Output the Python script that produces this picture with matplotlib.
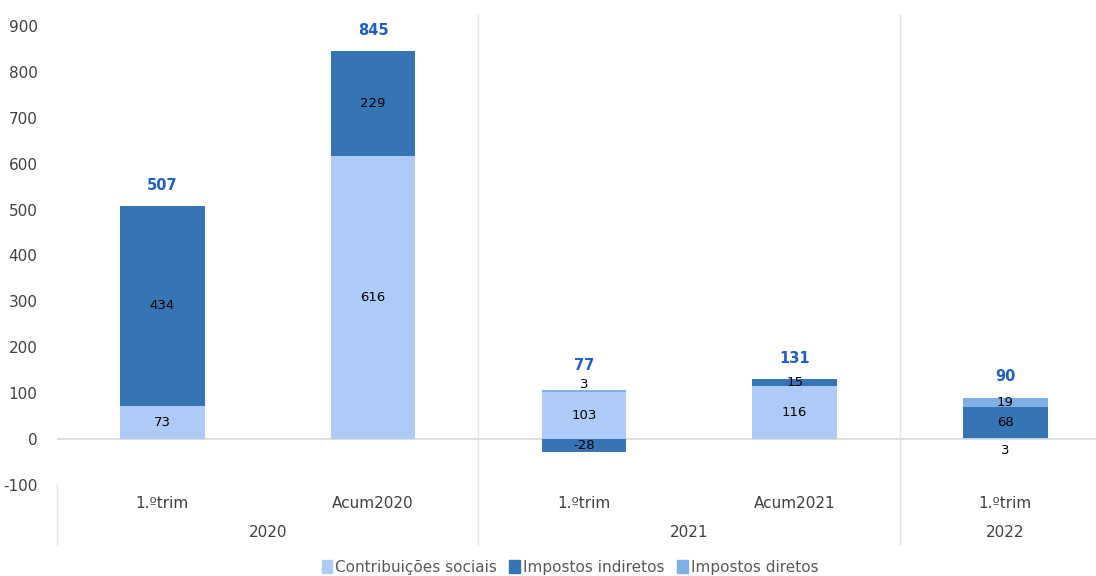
import numpy as np
import matplotlib.pyplot as plt
from matplotlib.patches import Patch

plt.rcParams['axes.unicode_minus'] = False

# categories (two level axis)
periods = ['1.ºtrim', 'Acum2020', '1.ºtrim', 'Acum2021', '1.ºtrim']
years = ['2020', '2021', '2022']
year_groups = [(0, 1), (2, 3), (4, 4)]

contrib = [73, 616, 103, 116, 3]
indiretos = [434, 229, -28, 15, 68]
diretos = [0, 0, 3, 0, 19]
totais = [507, 845, 77, 131, 90]

names = ['Contribuições sociais', 'Impostos indiretos', 'Impostos diretos']
colors = ['#aecbf7', '#3575b3', '#7eb0e6']

fig = plt.figure(figsize=(10.96, 5.76), dpi=100)
ax = fig.add_axes([0.052, 0.158, 0.948, 0.816])

x = np.arange(len(periods))
w = 0.4

pos_base = np.zeros(len(x))
neg_base = np.zeros(len(x))
for vals, name, c in zip([contrib, indiretos, diretos], names, colors):
    vals = np.array(vals, dtype=float)
    bottoms = np.where(vals >= 0, pos_base, neg_base)
    ax.bar(x, vals, w, bottom=bottoms, color=c, label=name, zorder=2)
    for i, v in enumerate(vals):
        if v == 0:
            continue
        mid = bottoms[i] + v / 2
        if abs(v) < 10:
            # tiny segment: label outside the bar
            if bottoms[i] == 0:
                ax.annotate(f'{v:.0f}', (x[i], 0), xytext=(0, -8), textcoords='offset points',
                            ha='center', va='center', fontsize=9.5, color='black')
            else:
                ax.annotate(f'{v:.0f}', (x[i], bottoms[i] + v), xytext=(0, 4), textcoords='offset points',
                            ha='center', va='center', fontsize=9.5, color='black')
        else:
            ax.text(x[i], mid, f'{v:.0f}', ha='center', va='center', fontsize=9.5, color='black', zorder=3)
    pos_base = pos_base + np.where(vals >= 0, vals, 0)
    neg_base = neg_base + np.where(vals < 0, vals, 0)

for i, t in enumerate(totais):
    off = 15 if diretos[i] == 0 or diretos[i] >= 10 else 18
    ax.annotate(str(t), (x[i], pos_base[i]), xytext=(0, off), textcoords='offset points',
                ha='center', va='center', fontsize=10.5, fontweight='bold', color='#1f5fc4')

ax.set_xlim(-0.5, 4.43)
ax.set_ylim(-100, 924)
ax.set_yticks(range(-100, 1000, 100))
ax.tick_params(axis='y', length=0, labelsize=11, labelcolor='#404040', pad=14)
ax.set_xticks([])
for s in ax.spines.values():
    s.set_visible(False)
ax.axhline(0, color='#d9d9d9', lw=1.2, zorder=1)

# separators and two level category labels
tr = ax.get_xaxis_transform()
for xs in [-0.5, 1.5, 3.5]:
    y0 = 1.0 if xs > -0.5 else 0.0
    ax.plot([xs, xs], [-0.128, y0], transform=tr, color='#e3e3e3', lw=1, clip_on=False)
for i, p in enumerate(periods):
    ax.text(x[i], -0.04, p, transform=tr, ha='center', va='center', fontsize=11, color='#404040')
for (a, b), yr in zip(year_groups, years):
    ax.text((a + b) / 2, -0.102, yr, transform=tr, ha='center', va='center', fontsize=11, color='#404040')

handles = [Patch(color=c, label=n) for c, n in zip(colors, names)]
fig.legend(handles=handles, loc='center', bbox_to_anchor=(0.52, 0.015), ncol=3, frameon=False,
           fontsize=11, labelcolor='#595959', handlelength=0.7, handleheight=0.9,
           handletextpad=0.2, columnspacing=0.8)

fig.savefig('out.png', dpi=100)
